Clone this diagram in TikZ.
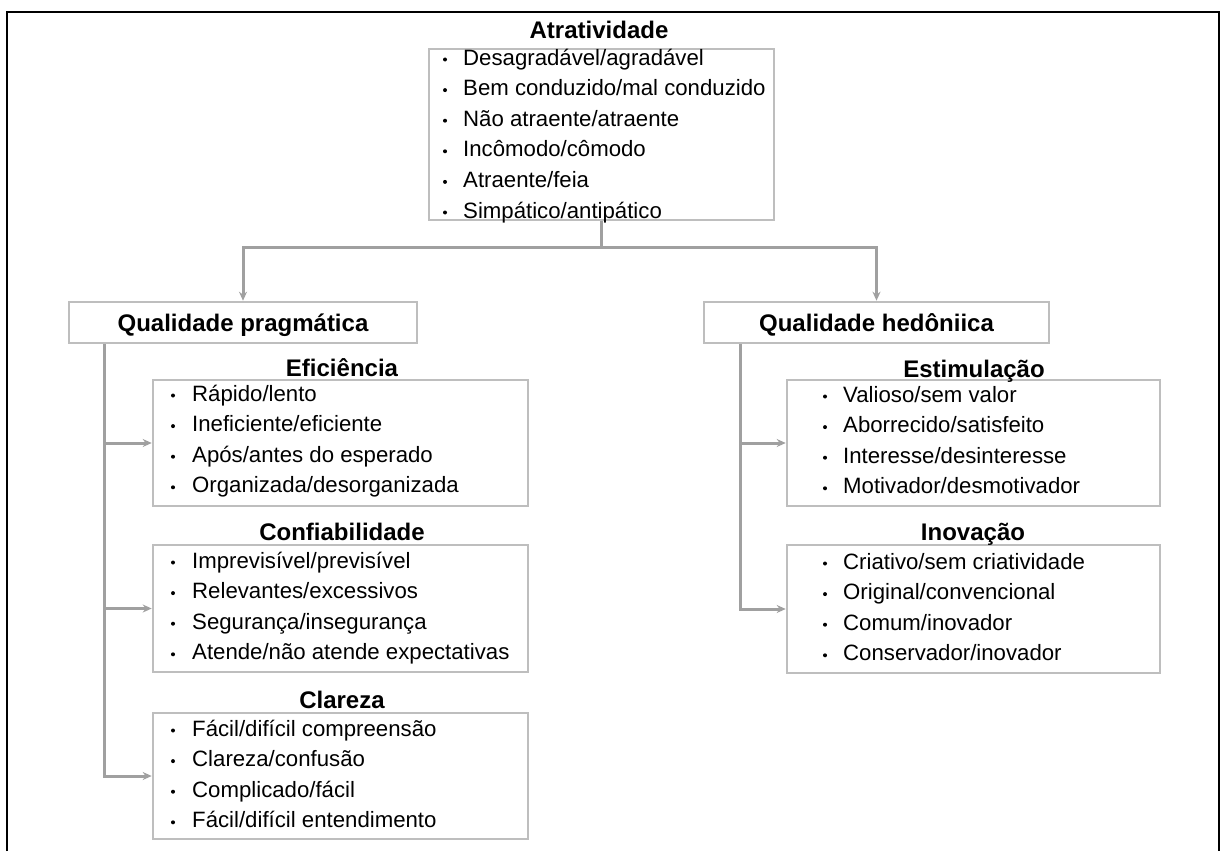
\documentclass[tikz,border=0pt]{standalone}
\usepackage{fontspec}
\setmainfont{Liberation Sans}
\usetikzlibrary{arrows.meta}
\definecolor{boxgray}{RGB}{190,190,190}
\definecolor{linegray}{RGB}{160,160,160}
\tikzset{
  boxnode/.style={draw=boxgray, line width=2.6pt, inner sep=0pt},
  itemtext/.style={font=\fontsize{22.2}{26}\selectfont, inner sep=0pt, text height=16pt, text depth=0pt, anchor=west},
  titletext/.style={font=\fontsize{24}{28}\selectfont\bfseries, inner sep=0pt, text height=17.2pt, text depth=0pt},
  conn/.style={draw=linegray, line width=3pt},
  arr/.style={conn, -{Stealth[length=9pt,width=8pt]}},
}
\newcommand{\bulletlist}[5]{%
  \foreach \txt [count=\i from 0] in {#5} {
    \pgfmathsetmacro{\yy}{#4+\i*30.6}
    \fill[black] (#2,\yy+2.5) circle (2pt);
    \node[itemtext] (#1-\i) at (#3,\yy) {\txt};
  }%
}
\begin{document}
\begin{tikzpicture}[x=1pt,y=-1pt]
\useasboundingbox (0,0) rectangle (1222,851);
\fill[white] (0,0) rectangle (1222,851);
% outer frame (open at the bottom)
\draw[black, line width=2.6pt] (7,851) -- (7,12) -- (1219,12) -- (1219,851);

% boxes
\node[boxnode, minimum width=345pt, minimum height=171pt] (A) at (601.5,134.5) {};
\node[boxnode, minimum width=348pt, minimum height=41pt, titletext] (QP) at (243,322.5) {Qualidade pragmática};
\node[boxnode, minimum width=345pt, minimum height=41pt, titletext] (QH) at (876.5,322.5) {Qualidade hedôniica};
\node[boxnode, minimum width=375pt, minimum height=126pt] (E) at (340.5,443) {};
\node[boxnode, minimum width=375pt, minimum height=127pt] (C) at (340.5,608.5) {};
\node[boxnode, minimum width=375pt, minimum height=126pt] (Cl) at (340.5,776) {};
\node[boxnode, minimum width=373pt, minimum height=126pt] (Es) at (973.5,443) {};
\node[boxnode, minimum width=373pt, minimum height=128pt] (I) at (973.5,609) {};

% titles
\node[titletext] (tA) at (599,30) {Atratividade};
\node[titletext] (tE) at (342,368) {Eficiência};
\node[titletext] (tC) at (342,532) {Confiabilidade};
\node[titletext] (tCl) at (342,700) {Clareza};
\node[titletext] (tEs) at (974,369) {Estimulação};
\node[titletext] (tI) at (973,532) {Inovação};

% item lists
\bulletlist{a}{445}{463}{57}{Desagradável/agradável,Bem conduzido/mal conduzido,Não atraente/atraente,Incômodo/cômodo,Atraente/feia,Simpático/antipático}
\bulletlist{e}{173}{192}{393}{Rápido/lento,Ineficiente/eficiente,Após/antes do esperado,Organizada/desorganizada}
\bulletlist{c}{173}{192}{560}{Imprevisível/previsível,Relevantes/excessivos,Segurança/insegurança,Atende/não atende expectativas}
\bulletlist{cl}{173}{192}{728}{Fácil/difícil compreensão,Clareza/confusão,Complicado/fácil,Fácil/difícil entendimento}
\bulletlist{es}{825}{843}{394}{Valioso/sem valor,Aborrecido/satisfeito,Interesse/desinteresse,Motivador/desmotivador}
\bulletlist{in}{825}{843}{561}{Criativo/sem criatividade,Original/convencional,Comum/inovador,Conservador/inovador}

% connectors
\coordinate (j) at (601.5,247);
\draw[conn] (A.south) -- (j);
\draw[arr] (j) -| (QP.north);
\draw[arr] (j) -| (QH.north);
\draw[arr] (QP.south west) ++(37,0) |- (E.west);
\draw[arr] (QP.south west) ++(37,0) |- (C.west);
\draw[arr] (QP.south west) ++(37,0) |- (Cl.west);
\draw[arr] (QH.south west) ++(38,0) |- (Es.west);
\draw[arr] (QH.south west) ++(38,0) |- (I.west);
\end{tikzpicture}
\end{document}
